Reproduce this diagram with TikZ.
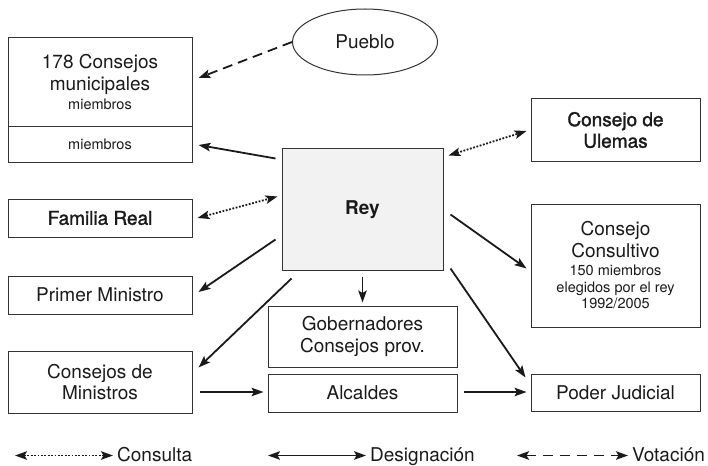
\documentclass[tikz,border=0pt]{standalone}
\usepackage{fontspec}
\setmainfont{TeX Gyre Heros}
\newfontfamily\medfont[FakeBold=1.6]{TeX Gyre Heros}
\usetikzlibrary{arrows.meta,shapes.geometric,calc}
\definecolor{linec}{HTML}{333333}
\definecolor{txt}{HTML}{1A1A1A}
\definecolor{reyfill}{HTML}{F2F2F2}
\newcommand{\smalltxt}{\fontsize{14.5}{16}\selectfont}
\tikzset{
  box/.style={draw=linec, line width=1pt, text=txt, align=center, inner sep=0pt, rectangle,
    font=\fontsize{19}{21.5}\selectfont},
  legtext/.style={text=txt, inner sep=0pt, anchor=base west, font=\fontsize{19}{21.5}\selectfont},
  tipa/.tip={Stealth[length=12pt,width=8.5pt,inset=2.5pt]},
  desig/.style={draw=txt, line width=1.8pt, -tipa},
  consul/.style={draw=txt, line width=1.8pt, dash pattern=on 1.8pt off 1.6pt, tipa-tipa},
  vot/.style={draw=txt, line width=1.8pt, dash pattern=on 10pt off 6pt, -tipa},
  votleg/.style={draw=txt, line width=1.8pt, dash pattern=on 10pt off 7pt, tipa-tipa},
  desigleg/.style={draw=txt, line width=1.8pt, tipa-tipa},
}
\begin{document}
\begin{tikzpicture}[x=1pt,y=-1pt]
\useasboundingbox (0,0) rectangle (708,465);

% nodes
\node[box, minimum width=184pt, minimum height=89pt] (muni) at (100,82.5)
  {178 Consejos\\municipales\\[-2pt]{\smalltxt miembros}};
\node[box, minimum width=184pt, minimum height=35pt] (munib) at (100,144.5)
  {\smalltxt miembros};
\node[draw=linec, line width=1pt, ellipse, text=txt, minimum width=145pt, minimum height=66pt,
  inner sep=0pt, font=\fontsize{19}{21.5}\selectfont] (pueblo) at (365,42) {Pueblo};
\node[box, minimum width=169pt, minimum height=62pt, font=\fontsize{19}{21.5}\selectfont\medfont]
  (ulemas) at (615.5,130) {Consejo de\\Ulemas};
\node[box, minimum width=184pt, minimum height=38pt, font=\fontsize{19}{21.5}\selectfont\medfont]
  (familia) at (100,218) {Familia Real};
\node[box, fill=reyfill, minimum width=161pt, minimum height=121pt,
  font=\fontsize{19}{21.5}\selectfont\bfseries] (rey) at (362.5,209.5) {Rey};
\node[box, minimum width=184pt, minimum height=38pt] (primer) at (100,295) {Primer Ministro};
\node[box, minimum width=169pt, minimum height=123pt] (consultivo) at (615.5,265.5)
  {Consejo\\Consultivo\\[-3pt]{\smalltxt 150 miembros}\\[-5pt]{\smalltxt elegidos por el rey}\\[-5pt]{\smalltxt 1992/2005}};
\node[box, minimum width=189pt, minimum height=61pt] (gob) at (362.5,336.5)
  {Gobernadores\\Consejos prov.};
\node[box, minimum width=184pt, minimum height=62pt] (ministros) at (100,382)
  {Consejos de\\Ministros};
\node[box, minimum width=189pt, minimum height=38pt] (alcaldes) at (362.5,393) {Alcaldes};
\node[box, minimum width=169pt, minimum height=37pt] (poder) at (615.5,392.5) {Poder Judicial};

% connectors
\draw[vot] (pueblo.west) -- ([shift={(6,-4.5)}]muni.east);
\draw[desig] ([shift={(-6,10)}]rey.north west) -- ([shift={(6,0.5)}]munib.east);
\draw[consul] ([shift={(5,7)}]rey.north east) -- ([shift={(-4,1)}]ulemas.west);
\draw[consul] ([shift={(5,0)}]familia.east) -- ([shift={(-4,48)}]rey.north west);
\draw[desig] ([shift={(-6,91)}]rey.north west) -- ([shift={(6,-3)}]primer.east);
\draw[desig] ([shift={(10,8)}]rey.south west) -- ([shift={(6,17)}]ministros.north east);
\draw[desig] ([shift={(0,6)}]rey.south) -- ([shift={(0,-3)}]gob.north);
\draw[desig] ([shift={(7,66)}]rey.north east) -- ([shift={(-4,3)}]consultivo.west);
\draw[desig] ([shift={(7,-2)}]rey.south east) -- ([shift={(-5,4)}]poder.north west);
\draw[desig] ([shift={(7,10)}]ministros.east) -- ([shift={(-4,-1)}]alcaldes.west);
\draw[desig] ([shift={(6,-1)}]alcaldes.east) -- ([shift={(-4,-0.5)}]poder.west);

% legend
\node[legtext] (lcons) at (117,461) {Consulta};
\node[legtext] (ldesig) at (370,461) {Designación};
\node[legtext] (lvot) at (632,461) {Votación};
\coordinate (lc1) at (15,455.5);
\coordinate (ld1) at (268,455.5);
\coordinate (lv1) at (517,455.5);
\draw[consul] (lc1) -- ([shift={(-4,-5.5)}]lcons.base west);
\draw[desigleg] (ld1) -- ([shift={(-4,-5.5)}]ldesig.base west);
\draw[votleg] (lv1) -- ([shift={(-4,-5.5)}]lvot.base west);
\end{tikzpicture}
\end{document}
